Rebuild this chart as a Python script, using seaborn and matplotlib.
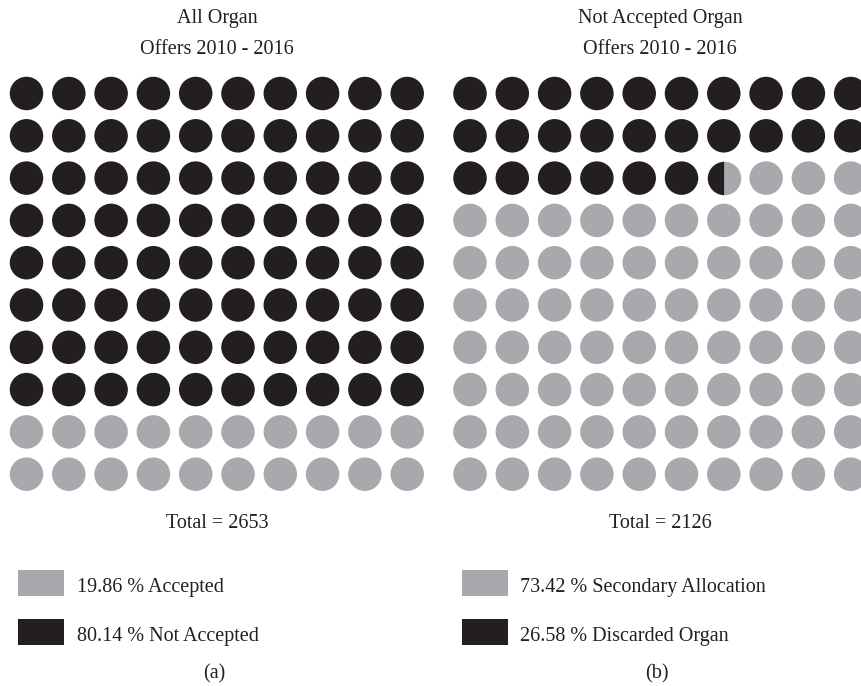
import numpy as np
import pandas as pd
import matplotlib.pyplot as plt
import seaborn as sns
from matplotlib.patches import Rectangle

# data
title_lines = [['All Organ', 'Offers 2010 - 2016'],
               ['Not Accepted Organ', 'Offers 2010 - 2016']]
totals = [2653, 2126]
black_pct = [80.14, 26.58]
gray_pct = [19.86, 73.42]
black_labels = ['Not Accepted', 'Discarded Organ']
gray_labels = ['Accepted', 'Secondary Allocation']
panel_labels = ['(a)', '(b)']

BLACK = '#231F20'
GRAY = '#A7A9AC'

# style set
sns.set_style('white')
plt.rcParams['font.family'] = ['Liberation Serif', 'DejaVu Serif']
FS = 14.5

W, H = 861, 686
fig = plt.figure(figsize=(W / 100, H / 100), dpi=100)


def fx(x):
    return x / W


def fy(y):
    return 1 - y / H


def waffle_cells(pct):
    # 10 x 10 grid, black cells first, half circle for the remainder
    n_full = int(pct)
    half = round((pct - n_full) * 2) / 2
    cells = pd.DataFrame({'idx': np.arange(100)})
    cells['col'] = cells.idx % 10
    cells['row'] = cells.idx // 10
    cells['kind'] = np.where(cells.idx < n_full, 'black', 'gray')
    if half > 0:
        cells.loc[n_full, 'kind'] = 'split'
    return cells


step = 42.3          # px between circle centres
diam = 33.5          # circle diameter in px
diam_pt = diam * 72 / 100
grid_left = [26.5, 470.0]   # centre of first column, px
grid_top = 93.5             # centre of first row, px

for i in range(2):
    left_px = grid_left[i] - step / 2
    top_px = grid_top - step / 2
    ax = fig.add_axes([fx(left_px), fy(top_px + 10 * step),
                       10 * step / W, 10 * step / H])
    cells = waffle_cells(black_pct[i])
    full = cells[cells.kind != 'split']
    sns.scatterplot(data=full, x='col', y='row', hue='kind',
                    palette={'black': BLACK, 'gray': GRAY},
                    s=diam_pt ** 2, linewidth=0, legend=False, ax=ax)
    split = cells[cells.kind == 'split']
    if len(split):
        ax.plot(split.col, split.row, linestyle='none', marker='o',
                markersize=diam_pt, fillstyle='left',
                markerfacecolor=BLACK, markerfacecoloralt=GRAY,
                markeredgewidth=0)
    ax.set_xlim(-0.5, 9.5)
    ax.set_ylim(9.5, -0.5)
    ax.axis('off')

    cx = grid_left[i] + 4.5 * step
    fig.text(fx(cx), fy(22.5), title_lines[i][0], ha='center',
             va='baseline', fontsize=FS, color=BLACK)
    fig.text(fx(cx), fy(54), title_lines[i][1], ha='center',
             va='baseline', fontsize=FS, color=BLACK)
    fig.text(fx(cx), fy(528), f'Total = {totals[i]}', ha='center',
             va='baseline', fontsize=FS, color=BLACK)
    fig.text(fx(cx - 3), fy(678), panel_labels[i], ha='center',
             va='baseline', fontsize=FS, color=BLACK)

    # legend
    lx = grid_left[i] - 8.5
    for j, (pct, lab, col) in enumerate([(gray_pct[i], gray_labels[i], GRAY),
                                         (black_pct[i], black_labels[i], BLACK)]):
        ytop = 570 + j * 49
        fig.add_artist(Rectangle((fx(lx), fy(ytop + 26)), 46 / W, 26 / H,
                                 transform=fig.transFigure, color=col, lw=0))
        fig.text(fx(lx + 59), fy(ytop + 22), f'{pct:.2f} % {lab}',
                 ha='left', va='baseline', fontsize=FS, color=BLACK)

fig.savefig('out.png', dpi=100)
